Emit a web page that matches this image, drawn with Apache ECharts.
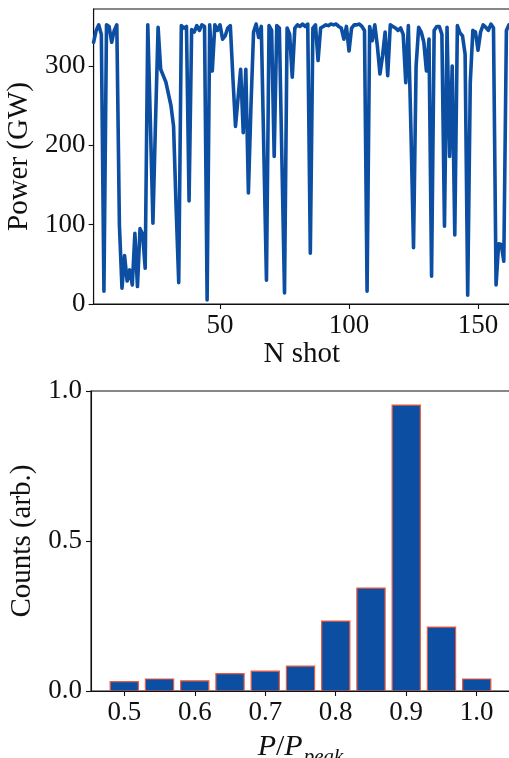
<!DOCTYPE html>
<html>
<head>
<meta charset="utf-8">
<title>Shot power and distribution</title>
<script src="https://cdn.jsdelivr.net/npm/echarts@6/dist/echarts.min.js"></script>
<style>
  html, body { margin: 0; padding: 0; background: #ffffff; }
  #chart { width: 509px; height: 758px; }
</style>
</head>
<body>
<div id="chart"></div>
<script>
// Peak power of each shot, in GW
const shots = [];
for (let i = 1; i <= 163; i++) shots.push(i);
const power = [
  330, 345, 352, 340, 16, 352, 350, 330, 345, 352,
  100, 20, 61, 29, 43, 24, 89, 22, 95, 88,
  45, 352, 230, 102, 230, 349, 296, 288, 280, 265,
  250, 224, 120, 27, 351, 348, 350, 130, 346, 343,
  351, 345, 352, 350, 5, 352, 294, 352, 345, 352,
  334, 338, 348, 351, 285, 224, 260, 296, 216, 296,
  140, 250, 343, 353, 336, 350, 190, 30, 351, 345,
  186, 351, 348, 180, 14, 348, 340, 286, 348, 352,
  350, 353, 350, 353, 64, 348, 352, 307, 348, 350,
  352, 351, 353, 352, 353, 350, 348, 334, 350, 319,
  348, 352, 352, 353, 350, 345, 16, 350, 332, 352,
  325, 290, 313, 343, 288, 352, 350, 348, 345, 348,
  340, 279, 351, 220, 71, 300, 349, 343, 330, 294,
  334, 35, 345, 350, 350, 340, 98, 349, 186, 300,
  87, 351, 342, 338, 315, 11, 279, 345, 343, 320,
  343, 352, 349, 345, 353, 348, 24, 76, 75, 54,
  345, 352, 350
];
const powerTicks = [0, 100, 200, 300];
const shotTicks = [50, 100, 150];

// Histogram of P/P_peak
const binCenters = [0.5, 0.55, 0.6, 0.65, 0.7, 0.75, 0.8, 0.85, 0.9, 0.95, 1.0];
const counts = [0.031, 0.040, 0.034, 0.058, 0.066, 0.083, 0.233, 0.343, 0.953, 0.213, 0.040];
const ratioTicks = [0.5, 0.6, 0.7, 0.8, 0.9, 1.0];
const countTicks = [0, 0.5, 1.0];
const barWidth = 0.04;

const FONT = 'Liberation Serif';
const FS_TICK = 27;
const FS_NAME = 29;
const INK = '#111111';
const BLUE = '#0b4ea2';
const EDGE = '#ee5a3a';

const chart = echarts.init(document.getElementById('chart'), null, { renderer: 'canvas' });

const lineData = shots.map((s, i) => [s, power[i]]);
const barData = binCenters.map((c, i) => [c, counts[i]]);

const axisLine = { show: true, onZero: false, lineStyle: { color: INK, width: 1.1 } };
const axisTick = (vals) => ({ show: true, inside: false, length: 5, customValues: vals, lineStyle: { color: INK, width: 1.1 } });
const label = (vals, fmt, margin) => ({
  customValues: vals, formatter: fmt, margin: margin,
  fontFamily: FONT, fontSize: FS_TICK, color: INK
});
const nameStyle = { fontFamily: FONT, fontSize: FS_NAME, color: INK };

const option = {
  animation: false,
  backgroundColor: '#ffffff',
  grid: [
    { left: 93.6, top: 9, width: 416.4, height: 295, outerBoundsMode: 'none', containLabel: false,
      show: true, borderColor: INK, borderWidth: 1.1, backgroundColor: 'transparent' },
    { left: 91, top: 391, width: 419, height: 300, outerBoundsMode: 'none', containLabel: false,
      show: true, borderColor: INK, borderWidth: 1.1, backgroundColor: 'transparent' }
  ],
  xAxis: [
    {
      gridIndex: 0, type: 'value', min: 1, max: 162.4,
      axisLine: axisLine, axisTick: axisTick(shotTicks),
      axisLabel: label(shotTicks, v => String(v), 8),
      splitLine: { show: false },
      name: 'N shot', nameLocation: 'middle', nameGap: 34,
      nameTextStyle: nameStyle
    },
    {
      gridIndex: 1, type: 'value', min: 0.4528, max: 1.0472,
      axisLine: axisLine, axisTick: axisTick(ratioTicks),
      axisLabel: label(ratioTicks, v => v.toFixed(1), 8),
      splitLine: { show: false },
      name: '{i|P}{n|/}{i|P}{s|peak}', nameLocation: 'middle', nameGap: 33,
      nameTextStyle: {
        fontFamily: FONT, fontSize: 30, color: INK,
        rich: {
          i: { fontFamily: FONT, fontSize: 30, fontStyle: 'italic', color: INK, verticalAlign: 'middle', lineHeight: 32 },
          n: { fontFamily: FONT, fontSize: 30, color: INK, verticalAlign: 'middle', lineHeight: 32 },
          s: { fontFamily: FONT, fontSize: 21, fontStyle: 'italic', color: INK, verticalAlign: 'middle', lineHeight: 22, padding: [20, 0, 0, 1] }
        }
      }
    }
  ],
  yAxis: [
    {
      gridIndex: 0, type: 'value', min: 0, max: 372,
      axisLine: axisLine, axisTick: axisTick(powerTicks),
      axisLabel: label(powerTicks, v => String(v), 8),
      splitLine: { show: false },
      name: 'Power (GW)', nameLocation: 'middle', nameGap: 56, nameRotate: 90,
      nameTextStyle: nameStyle
    },
    {
      gridIndex: 1, type: 'value', min: 0, max: 1.0,
      axisLine: axisLine, axisTick: axisTick(countTicks),
      axisLabel: label(countTicks, v => v.toFixed(1), 9),
      splitLine: { show: false },
      name: 'Counts (arb.)', nameLocation: 'middle', nameGap: 45, nameRotate: 90,
      nameTextStyle: nameStyle
    }
  ],
  series: [
    {
      type: 'line', xAxisIndex: 0, yAxisIndex: 0,
      data: lineData, showSymbol: false, symbol: 'none', clip: true,
      lineStyle: { color: BLUE, width: 3.6, join: 'round', cap: 'round' }
    },
    {
      type: 'custom', xAxisIndex: 1, yAxisIndex: 1,
      data: barData, clip: true,
      renderItem: function (params, api) {
        const x = api.value(0), y = api.value(1);
        const p0 = api.coord([x - barWidth / 2, y]);
        const p1 = api.coord([x + barWidth / 2, 0]);
        return {
          type: 'rect',
          shape: { x: p0[0], y: p0[1], width: p1[0] - p0[0], height: p1[1] - p0[1] },
          style: { fill: BLUE, stroke: EDGE, lineWidth: 1.2 }
        };
      }
    }
  ]
};

chart.setOption(option);
</script>
</body>
</html>
